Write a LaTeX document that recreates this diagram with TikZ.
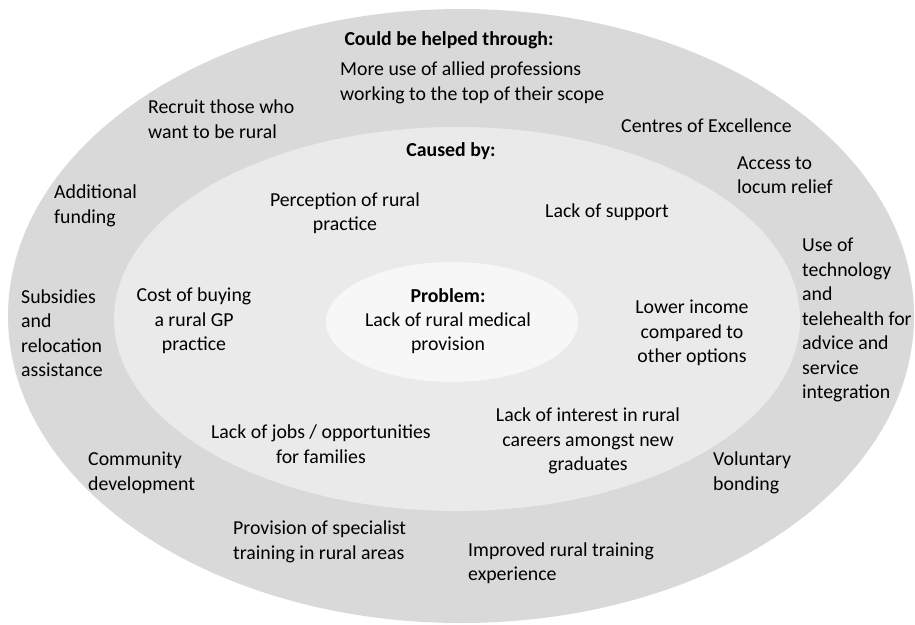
\documentclass[tikz,border=0pt]{standalone}
\usepackage{fontspec}
\setmainfont{Carlito}
\usetikzlibrary{positioning}
\definecolor{outerring}{HTML}{D9D9D9}
\definecolor{middlering}{HTML}{EAEAEA}
\definecolor{innerring}{HTML}{F7F7F7}

\begin{document}
\begin{tikzpicture}[x=1pt,y=-1pt,node distance=4pt,
    every node/.style={font=\fontsize{19.8}{24.5}\selectfont,inner sep=0pt,text=black},
    left text/.style={anchor=west,align=left},
    mid text/.style={align=center},
    head text/.style={font=\fontsize{19.8}{24.5}\selectfont\bfseries}]

  \useasboundingbox (0,0) rectangle (915,624);

  % rings
  \fill[outerring] (461,316) ellipse [x radius=453, y radius=307];
  \fill[middlering] (457,319) ellipse [x radius=343, y radius=192];
  \fill[innerring] (452,322) ellipse [x radius=126, y radius=60];

  % headings
  \node[head text] (helped) at (449,40) {Could be helped through:};
  \node[head text] (caused) at (451,151) {Caused by:};
  \node[head text] (problemhead) at (448,296) {Problem:};
  \node[mid text] (problem) at (448,333) {Lack of rural medical\\provision};

  % outer ring
  \node[left text] (allied) at (340,83) {More use of allied professions\\working to the top of their scope};
  \node[left text] (recruit) at (148,119) {Recruit those who\\want to be rural};
  \node[left text] (centres) at (621,126) {Centres of Excellence};
  \node[left text] (locum) at (737,175) {Access to\\locum relief};
  \node[left text] (funding) at (54,206) {Additional\\funding};
  \node[left text] (technology) at (802,320) {Use of\\technology\\and\\telehealth for\\advice and\\service\\integration};
  \node[left text] (subsidies) at (21,333) {Subsidies\\and\\relocation\\assistance};
  \node[left text] (community) at (88,473) {Community\\development};
  \node[left text] (bonding) at (713,473) {Voluntary\\bonding};
  \node[left text] (specialist) at (233,542) {Provision of specialist\\training in rural areas};
  \node[left text] (training) at (468,563) {Improved rural training\\experience};

  % middle ring
  \node[mid text] (perception) at (345,213) {Perception of rural\\practice};
  \node[left text] (support) at (545,212) {Lack of support};
  \node[mid text] (cost) at (194,321) {Cost of buying\\a rural GP\\practice};
  \node[mid text] (income) at (692,333) {Lower income\\compared to\\other options};
  \node[mid text] (interest) at (588,441) {Lack of interest in rural\\careers amongst new\\graduates};
  \node[mid text] (jobs) at (321,444) {Lack of jobs / opportunities\\for families};

\end{tikzpicture}
\end{document}
